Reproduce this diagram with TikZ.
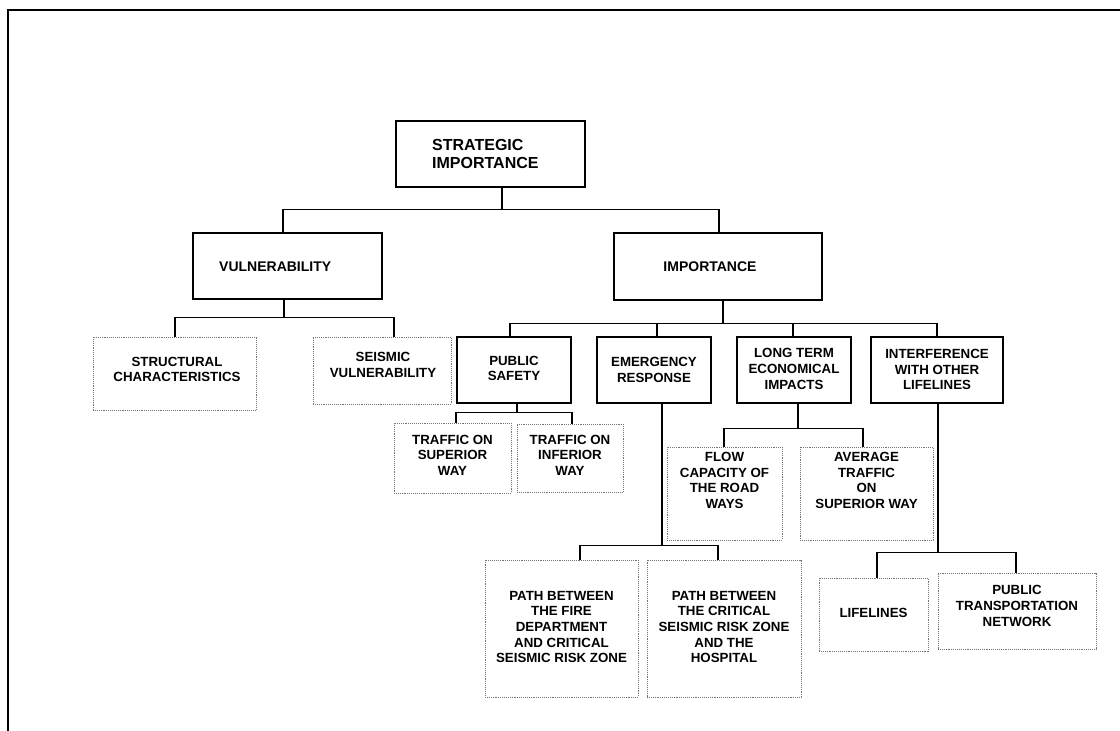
\documentclass[tikz,border=0pt]{standalone}
\usepackage{fontspec}
\setmainfont{Liberation Sans}
\begin{document}
\begin{tikzpicture}[x=1pt,y=-1pt,
  solidbox/.style={draw=black, line width=1.1pt, rectangle, inner sep=0pt},
  dotbox/.style={draw=black!55, line width=0.9pt, densely dotted, rectangle, inner sep=0pt},
  txt/.style={font=\bfseries\fontsize{13.3}{15.6}\selectfont, align=center, inner sep=0pt},
  bigtxt/.style={font=\bfseries\fontsize{14}{16.5}\selectfont, align=center, inner sep=0pt},
  conn/.style={draw=black, line width=1.1pt},
  frame/.style={draw=black, line width=2pt}]
\useasboundingbox (0,0) rectangle (1120,731);
\coordinate (fa) at (8,731);
\coordinate (fb) at (8,9.5);
\coordinate (fc) at (1120,9.5);
\draw[frame] (fa) -- (fb) -- (fc);

% boxes
\node[solidbox, minimum width=189pt, minimum height=66pt] (si) at (490.5,154) {};
\node[font=\bfseries\fontsize{16}{18}\selectfont, align=left, anchor=west, inner sep=0pt] (si-t) at (432,154) {STRATEGIC\\IMPORTANCE};

\node[solidbox, minimum width=189pt, minimum height=66pt] (vul) at (287.5,266) {};
\node[bigtxt, anchor=west] (vul-t) at (219,267) {VULNERABILITY};

\node[solidbox, minimum width=208pt, minimum height=67pt] (imp) at (718,266.5) {};
\node[bigtxt] (imp-t) at (710,267) {IMPORTANCE};

\node[dotbox, minimum width=163pt, minimum height=73pt] (st) at (174.5,373.5) {};
\node[txt] (st-t) at (177,369.5) {STRUCTURAL\\CHARACTERISTICS};

\node[dotbox, minimum width=138pt, minimum height=67pt] (se) at (382,370.5) {};
\node[txt] (se-t) at (383,365) {SEISMIC\\VULNERABILITY};

\node[solidbox, minimum width=114pt, minimum height=66pt] (ps) at (514,370) {};
\node[txt] (ps-t) at (514,368.5) {PUBLIC\\SAFETY};

\node[solidbox, minimum width=114pt, minimum height=66pt] (em) at (654,370) {};
\node[txt] (em-t) at (654,370) {EMERGENCY\\RESPONSE};

\node[solidbox, minimum width=114pt, minimum height=66pt] (lt) at (794,370) {};
\node[txt] (lt-t) at (794,369) {LONG TERM\\ECONOMICAL\\IMPACTS};

\node[solidbox, minimum width=132pt, minimum height=66pt] (int) at (937,370) {};
\node[txt] (int-t) at (937,369.5) {INTERFERENCE\\WITH OTHER\\LIFELINES};

\node[dotbox, minimum width=117pt, minimum height=70pt] (tsup) at (452.5,458) {};
\node[txt] (tsup-t) at (452.5,455) {TRAFFIC ON\\SUPERIOR\\WAY};

\node[dotbox, minimum width=106pt, minimum height=68pt] (tinf) at (570,458) {};
\node[txt] (tinf-t) at (570,455) {TRAFFIC ON\\INFERIOR\\WAY};

\node[dotbox, minimum width=115pt, minimum height=93pt] (flow) at (724.5,493.5) {};
\node[txt] (flow-t) at (724.5,480.5) {FLOW\\CAPACITY OF\\THE ROAD\\WAYS};

\node[dotbox, minimum width=133pt, minimum height=93pt] (avg) at (866.5,493.5) {};
\node[txt] (avg-t) at (866.5,480.5) {AVERAGE\\TRAFFIC\\ON\\SUPERIOR WAY};

\node[dotbox, minimum width=153pt, minimum height=137pt] (p1) at (561.5,628.5) {};
\node[txt] (p1-t) at (561.5,627) {PATH BETWEEN\\THE FIRE\\DEPARTMENT\\AND CRITICAL\\SEISMIC RISK ZONE};

\node[dotbox, minimum width=154pt, minimum height=137pt] (p2) at (724,628.5) {};
\node[txt] (p2-t) at (724,627) {PATH BETWEEN\\THE CRITICAL\\SEISMIC RISK ZONE\\AND THE\\HOSPITAL};

\node[dotbox, minimum width=109pt, minimum height=73pt] (lf) at (873.5,614.5) {};
\node[txt] (lf-t) at (873.5,613) {LIFELINES};

\node[dotbox, minimum width=158pt, minimum height=76pt] (pt) at (1017,611) {};
\node[txt] (pt-t) at (1017,606) {PUBLIC\\TRANSPORTATION\\NETWORK};

% connectors
\draw[conn] ([xshift=11.5pt]si.south) -- ++(0,21.5) coordinate (j0);
\draw[conn] ([xshift=-4.5pt]vul.north) |- (j0) -| ([xshift=1pt]imp.north);

\draw[conn] ([xshift=5pt]imp.south) -- ++(0,23) coordinate (j1);
\draw[conn] ([xshift=-4pt]ps.north) |- (j1) -| (int.north);
\draw[conn] ([xshift=3pt]em.north) -- ([xshift=3pt]em.north |- j1);
\draw[conn] ([xshift=-1pt]lt.north) -- ([xshift=-1pt]lt.north |- j1);

\draw[conn] ([xshift=-3.5pt]vul.south) -- ++(0,18) coordinate (j2);
\draw[conn] ([xshift=0.5pt]st.north) |- (j2) -| ([xshift=12pt]se.north);

\draw[conn] ([xshift=3pt]ps.south) -- ++(0,9) coordinate (j3);
\draw[conn] ([xshift=3.5pt]tsup.north) |- (j3) -| ([xshift=2pt]tinf.north);

\draw[conn] ([xshift=8pt]em.south) -- ++(0,142) coordinate (j4);
\draw[conn] ([xshift=18.5pt]p1.north) |- (j4) -| ([xshift=-6pt]p2.north);

\draw[conn] ([xshift=4pt]lt.south) -- ++(0,25) coordinate (j5);
\draw[conn] ([xshift=-0.5pt]flow.north) |- (j5) -| ([xshift=-3.5pt]avg.north);

\draw[conn] ([xshift=1pt]int.south) -- ++(0,149) coordinate (j6);
\draw[conn] ([xshift=3.5pt]lf.north) |- (j6) -| ([xshift=-1pt]pt.north);
\end{tikzpicture}
\end{document}
